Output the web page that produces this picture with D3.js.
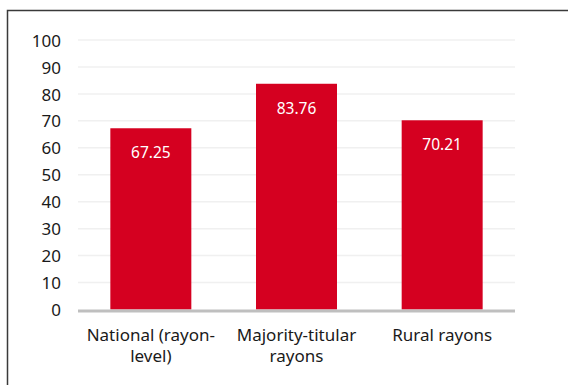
<!DOCTYPE html>
<html>
<head>
<meta charset="utf-8">
<script src="https://cdn.jsdelivr.net/npm/d3@7"></script>
<style>
  html, body { margin: 0; padding: 0; background: #fff; }
  svg { display: block; }
  svg text { font-family: "Noto Sans", "Open Sans", sans-serif; }
</style>
</head>
<body>
<svg id="chart" width="568" height="385"></svg>
<script>
// Share of population (%) by rayon group
const categories = ["National (rayon-level)", "Majority-titular rayons", "Rural rayons"];
const categoryLines = [["National (rayon-", "level)"], ["Majority-titular", "rayons"], ["Rural rayons"]];
const values = [67.25, 83.76, 70.21];
const yTicks = [0, 10, 20, 30, 40, 50, 60, 70, 80, 90, 100];

const FONT = "'Noto Sans', 'Open Sans', sans-serif";
const svg = d3.select("#chart");
const margin = { left: 78, right: 53, top: 40, bottom: 75.5 };
const W = 568, H = 385;

// Outer frame (top and left edges visible in the canvas)
svg.append("rect")
  .attr("x", 7.5).attr("y", 10.5)
  .attr("width", 600).attr("height", 400)
  .attr("fill", "none").attr("stroke", "#3a3a3a").attr("stroke-width", 1.5);

const x = d3.scaleBand()
  .domain(categories)
  .range([margin.left, W - margin.right])
  .paddingInner(0.444)
  .paddingOuter(0.222);

const y = d3.scaleLinear()
  .domain([0, 100])
  .range([H - margin.bottom, margin.top]);

// Horizontal gridlines
svg.append("g")
  .selectAll("line")
  .data(yTicks.filter(d => d > 0))
  .join("line")
  .attr("x1", margin.left).attr("x2", W - margin.right)
  .attr("y1", d => y(d)).attr("y2", d => y(d))
  .attr("stroke", "#f0f0f0").attr("stroke-width", 1.5);

// Y-axis labels
const yAxis = d3.axisLeft(y).tickValues(yTicks).tickSize(0).tickPadding(0);
const gy = svg.append("g")
  .attr("transform", `translate(${margin.left - 17},0)`)
  .call(yAxis)
  .attr("font-family", FONT)
  .attr("font-size", 17);
gy.select(".domain").remove();
gy.selectAll("text")
  .attr("fill", "#1a1a1a")
  .attr("dy", "0.36em");

// Bars
svg.append("g")
  .selectAll("rect")
  .data(values)
  .join("rect")
  .attr("x", (d, i) => x(categories[i]))
  .attr("width", x.bandwidth())
  .attr("y", d => y(d))
  .attr("height", d => y(0) - y(d))
  .attr("fill", "#d50020");

// Value labels inside bars
svg.append("g")
  .attr("font-family", FONT)
  .selectAll("text")
  .data(values)
  .join("text")
  .attr("x", (d, i) => x(categories[i]) + x.bandwidth() / 2)
  .attr("y", d => y(d) + 30)
  .attr("text-anchor", "middle")
  .attr("font-size", 15.5)
  .attr("fill", "#ffffff")
  .text(d => d.toFixed(2));

// Baseline
svg.append("line")
  .attr("x1", margin.left).attr("x2", W - margin.right)
  .attr("y1", y(0) + 1.5).attr("y2", y(0) + 1.5)
  .attr("stroke", "#bfbfbf").attr("stroke-width", 3);

// Category labels (wrapped)
const xAxis = d3.axisBottom(x).tickSize(0).tickFormat(() => "");
const gx = svg.append("g")
  .attr("transform", `translate(0,${y(0)})`)
  .call(xAxis)
  .attr("font-family", FONT);
gx.select(".domain").remove();
gx.selectAll(".tick").each(function(d, i) {
  const t = d3.select(this).append("text")
    .attr("text-anchor", "middle")
    .attr("font-size", 17)
    .attr("fill", "#1a1a1a")
    .attr("y", 31.5);
  categoryLines[i].forEach((line, j) => {
    t.append("tspan").attr("x", 0).attr("dy", j === 0 ? 0 : 21).text(line);
  });
});
</script>
</body>
</html>
